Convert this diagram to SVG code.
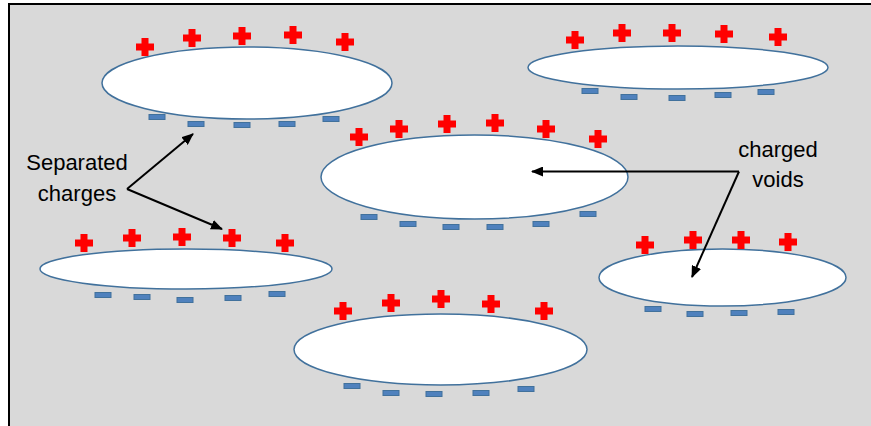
<svg xmlns="http://www.w3.org/2000/svg" xmlns:xlink="http://www.w3.org/1999/xlink" width="871" height="426" viewBox="0 0 871 426">
<style>
.void{fill:#ffffff;stroke:#41719c;stroke-width:1.5}
.lbl{font-family:"Liberation Sans",Arial,sans-serif;font-size:22px;fill:#000;text-anchor:middle}
.arr{fill:none;stroke:#000;stroke-width:2}
</style>
<defs>
<path id="plus" d="M-3.5,-9h7v5.5h5.5v7h-5.5v5.5h-7v-5.5h-5.5v-7h5.5z" fill="#ff0000"/>
<rect id="minus" x="-8" y="-2.5" width="16" height="5" fill="#4f81bd" stroke="#41719c" stroke-width="1"/>
<marker id="ah" viewBox="0 0 12 10" refX="11" refY="5" markerWidth="12" markerHeight="10" markerUnits="userSpaceOnUse" orient="auto">
<path d="M0,0L12,5L0,10z" fill="#000"/>
</marker>
</defs>
<rect x="0" y="0" width="871" height="426" fill="#ffffff"/>
<rect x="9" y="4" width="870" height="430" fill="#d9d9d9" stroke="#000" stroke-width="2"/>

<g id="void1">
<ellipse class="void" cx="247" cy="83" rx="145" ry="36"/>
<use href="#plus" x="145" y="47"/><use href="#plus" x="192" y="38"/><use href="#plus" x="242" y="36"/><use href="#plus" x="293" y="35"/><use href="#plus" x="345" y="42"/>
<use href="#minus" x="157" y="117"/><use href="#minus" x="196" y="124"/><use href="#minus" x="242" y="125"/><use href="#minus" x="287" y="124"/><use href="#minus" x="331" y="119"/>
</g>

<g id="void2">
<ellipse class="void" cx="678" cy="67.5" rx="150" ry="21.5"/>
<use href="#plus" x="575" y="40"/><use href="#plus" x="622" y="33"/><use href="#plus" x="672" y="33"/><use href="#plus" x="724" y="34"/><use href="#plus" x="778" y="37"/>
<use href="#minus" x="590" y="91"/><use href="#minus" x="629" y="97"/><use href="#minus" x="677" y="98"/><use href="#minus" x="723" y="95"/><use href="#minus" x="766" y="92"/>
</g>

<g id="void3">
<ellipse class="void" cx="474.5" cy="177" rx="153.5" ry="42"/>
<use href="#plus" x="359" y="137"/><use href="#plus" x="399" y="129"/><use href="#plus" x="447" y="124"/><use href="#plus" x="495" y="123"/><use href="#plus" x="546" y="129"/><use href="#plus" x="598" y="139"/>
<use href="#minus" x="369" y="217"/><use href="#minus" x="408" y="224"/><use href="#minus" x="451" y="227"/><use href="#minus" x="495" y="227"/><use href="#minus" x="541" y="224"/><use href="#minus" x="588" y="214"/>
</g>

<g id="void4">
<ellipse class="void" cx="186" cy="269" rx="146" ry="20"/>
<use href="#plus" x="84" y="243"/><use href="#plus" x="132" y="238"/><use href="#plus" x="182" y="237"/><use href="#plus" x="232" y="238"/><use href="#plus" x="285" y="243"/>
<use href="#minus" x="103" y="295"/><use href="#minus" x="142" y="297"/><use href="#minus" x="185" y="300"/><use href="#minus" x="233" y="298"/><use href="#minus" x="277" y="294"/>
</g>

<g id="void5">
<ellipse class="void" cx="440.5" cy="349.5" rx="146.5" ry="35.5"/>
<use href="#plus" x="343" y="311"/><use href="#plus" x="391" y="303"/><use href="#plus" x="441" y="299"/><use href="#plus" x="491" y="304"/><use href="#plus" x="544" y="311"/>
<use href="#minus" x="352" y="386"/><use href="#minus" x="391" y="393"/><use href="#minus" x="434" y="394"/><use href="#minus" x="481" y="393"/><use href="#minus" x="526" y="389"/>
</g>

<g id="void6">
<ellipse class="void" cx="722.5" cy="277.5" rx="123.5" ry="28.5"/>
<use href="#plus" x="645" y="245"/><use href="#plus" x="693" y="240"/><use href="#plus" x="741" y="240"/><use href="#plus" x="788" y="242"/>
<use href="#minus" x="653" y="309"/><use href="#minus" x="695" y="314"/><use href="#minus" x="739" y="313"/><use href="#minus" x="786" y="312"/>
</g>

<g id="label-separated">
<text class="lbl" x="77" y="170">Separated</text>
<text class="lbl" x="77" y="201">charges</text>
</g>
<g id="label-voids">
<text class="lbl" x="778" y="157">charged</text>
<text class="lbl" x="778" y="187">voids</text>
</g>

<g id="connectors">
<path class="arr" d="M127,189L193,134" marker-end="url(#ah)"/>
<path class="arr" d="M127,189L222,229" marker-end="url(#ah)"/>
<path class="arr" d="M739,171.5L532,171.5" marker-end="url(#ah)"/>
<path class="arr" d="M739,171.5L692,277" marker-end="url(#ah)"/>
</g>
</svg>
